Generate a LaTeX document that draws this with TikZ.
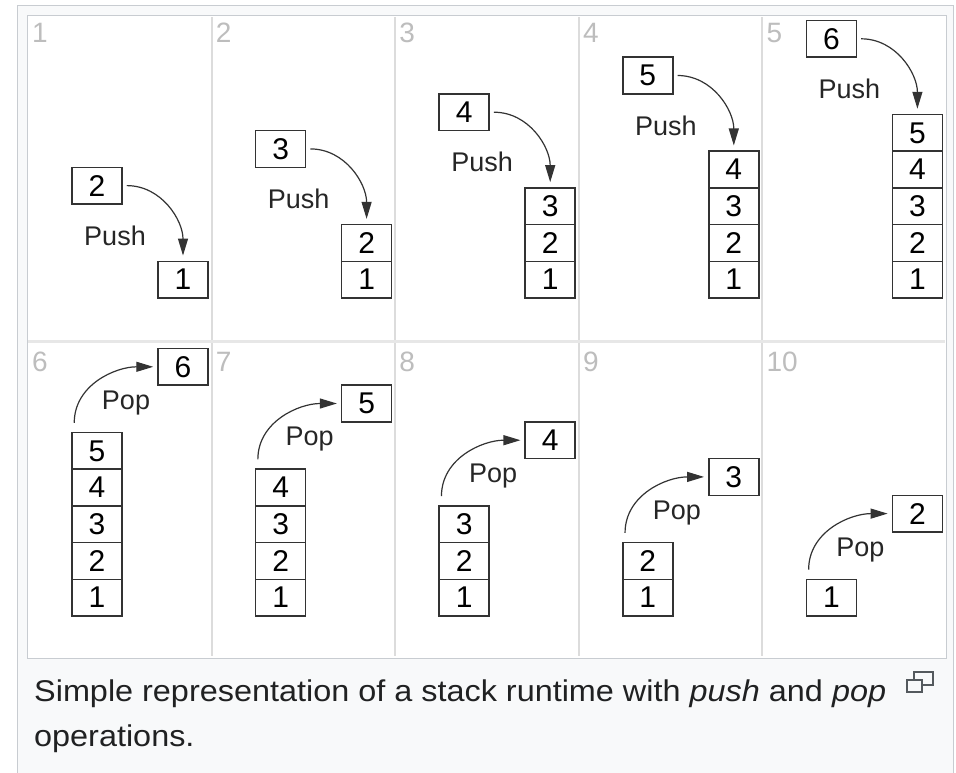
\documentclass[tikz,border=0pt]{standalone}
\usepackage{fontspec}
\setmainfont{Liberation Sans}
\newfontfamily\capfont[FakeStretch=1.08]{Liberation Sans}
\usetikzlibrary{arrows.meta,calc}
\definecolor{pagebg}{HTML}{F8F9FA}
\definecolor{frame}{HTML}{C8CCD1}
\definecolor{divider}{HTML}{DCDCDC}
\definecolor{numgray}{HTML}{BDBDBD}
\definecolor{ink}{HTML}{333333}
\definecolor{txt}{HTML}{202122}
\definecolor{icon}{HTML}{54595D}
\begin{document}
\begin{tikzpicture}[x=1pt,y=1pt,
  cell/.style={draw=ink, line width=1.5pt, fill=white, minimum width=50pt, minimum height=36.7pt, inner sep=0pt, font=\fontsize{30}{30}\selectfont, text=black},
  oplabel/.style={font=\fontsize{27}{27}\selectfont, text=black!85, inner sep=0pt},
  panelnum/.style={font=\fontsize{28}{28}\selectfont, text=numgray, inner sep=0pt, anchor=north west},
  move/.style={draw=ink, line width=1.2pt, -{Triangle[length=17pt,width=10pt]}},
]
\useasboundingbox (0,0) rectangle (956,-772);
\fill[white] (0,0) rectangle (956,-772);
\draw[frame, fill=pagebg, line width=1pt] (17,-5) rectangle (953,-800);
\draw[frame, fill=white, line width=1pt] (27.5,-15) rectangle (946,-658);
\foreach \x in {211.6,395.2,578.8,762.4}{
  \draw[divider, line width=2pt] (\x,-17) -- (\x,-656);
}
\draw[divider!70, line width=3pt] (28,-341.5) -- (945,-341.5);
% top row: push
\foreach \i in {1,...,5}{
  \pgfmathsetmacro{\L}{28+183.6*(\i-1)}
  \node[panelnum] (tn\i) at (\L+4,-23) {\i};
  \foreach \k in {1,...,\i}{
    \node[cell] (t\i-\k) at ({\L+155},{-(298-36.7*(\k-0.5))}) {\k};
  }
  \pgfmathsetmacro{\by}{298-36.7*\i-75.7}
  \pgfmathtruncatemacro{\v}{\i+1}
  \node[cell] (tb\i) at ({\L+69},-\by) {\v};
  \node[oplabel] (tl\i) at ({\L+87},{-\by-50}) {Push};
  \draw[move] ([xshift=4pt]tb\i.east) to[out=0,in=90] ([yshift=5pt]t\i-\i.north);
}
% bottom row: pop
\foreach \j in {1,...,5}{
  \pgfmathsetmacro{\L}{28+183.6*(\j-1)}
  \pgfmathtruncatemacro{\p}{5+\j}
  \pgfmathtruncatemacro{\n}{6-\j}
  \node[panelnum] (bn\j) at (\L+4,-352) {\p};
  \foreach \k in {1,...,\n}{
    \node[cell] (b\j-\k) at ({\L+69},{-(616-36.7*(\k-0.5))}) {\k};
  }
  \pgfmathsetmacro{\by}{616-36.7*\n-65.7}
  \pgfmathtruncatemacro{\v}{\n+1}
  \node[cell] (bb\j) at ({\L+155},-\by) {\v};
  \node[oplabel] (bl\j) at ({\L+98},{-\by-36}) {Pop};
  \draw[move] ([xshift=3pt,yshift=9pt]b\j-\n.north west) to[out=90,in=180] ([xshift=-4pt]bb\j.west);
}
% caption
\node[anchor=base west, inner sep=0pt, font=\capfont\fontsize{30}{30}\selectfont, text=txt] (cap1) at (34,-701) {Simple representation of a stack runtime with \textit{push} and \textit{pop}};
\node[anchor=base west, inner sep=0pt, font=\capfont\fontsize{30}{30}\selectfont, text=txt] (cap2) at (34,-746) {operations.};
% enlarge icon
\draw[icon, line width=1.5pt] (914,-672) rectangle (933,-685);
\draw[icon, line width=1.5pt, fill=pagebg] (907,-680) rectangle (922,-692);
\end{tikzpicture}
\end{document}
